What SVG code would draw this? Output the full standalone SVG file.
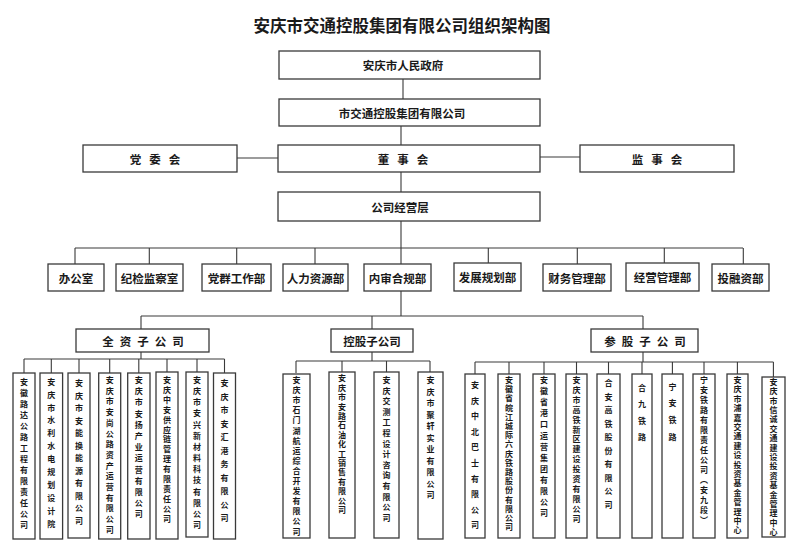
<svg xmlns="http://www.w3.org/2000/svg" width="800" height="553" viewBox="0 0 800 553">
<style>
.b{fill:#fff;stroke:#3a3a3a;stroke-width:1.3}
.c{fill:none;stroke:#3a3a3a;stroke-width:1.1}
.t{font-family:"Noto Sans CJK SC","Noto Sans",sans-serif;font-weight:bold;fill:#1a1a1a;text-anchor:middle;dominant-baseline:central;font-size:11.5px}
.v{font-family:"Noto Sans CJK SC","Noto Sans",sans-serif;font-weight:bold;fill:#1a1a1a;writing-mode:vertical-rl;font-size:8px}
</style>
<rect width="800" height="553" fill="#fff"/>
<text class="t" x="402" y="25" style="font-size:16.5px">安庆市交通控股集团有限公司组织架构图</text>

<g id="connectors">
<path class="c" d="M403 79V99M401 126V145M237 158H278M540 157H580M401 172V192M401 221V264M75 248H743M75 248V264M149.3 248V264M236.7 248V264M315 248V264M488.3 248V264M577.3 248V264M664.3 248V264M743.3 248V264M401 291V316M141 316H643M141 316V329M372 316V329M643 316V329"/>
<path class="c" d="M141 352V359M24 359H224.5M24 359V373M51.3 359V373M79 359V373M109.7 359V373M138.8 359V373M167 359V373M197 359V373M224.5 359V373"/>
<path class="c" d="M372 352V361M296 361H430M296 361V373M342 361V373M386.5 361V373M430 361V373"/>
<path class="c" d="M643 352V362M475 362H773.4M475 362V374M509 362V374M544 362V374M576.5 362V374M608.5 362V374M642 362V374M672.4 362V374M704 362V374M737.4 362V374M773.4 362V377"/>
</g>

<g id="gov"><rect class="b" x="279" y="51" width="261" height="28"/><text class="t" x="403" y="65">安庆市人民政府</text></g>
<g id="group"><rect class="b" x="279" y="99" width="261" height="27"/><text class="t" x="402" y="112.5">市交通控股集团有限公司</text></g>
<g id="party"><rect class="b" x="83" y="145" width="154" height="27"/><text class="t" x="159" y="158.5" style="letter-spacing:8px">党委会</text></g>
<g id="board"><rect class="b" x="278" y="145" width="262" height="27"/><text class="t" x="407" y="158.5" style="letter-spacing:8px">董事会</text></g>
<g id="supervisors"><rect class="b" x="580" y="145" width="154" height="27"/><text class="t" x="661" y="158.5" style="letter-spacing:8px">监事会</text></g>
<g id="mgmt"><rect class="b" x="278" y="192" width="262" height="29"/><text class="t" x="400" y="206.5">公司经营层</text></g>

<g id="d1"><rect class="b" x="48" y="264" width="56" height="27"/><text class="t" x="76" y="277.5">办公室</text></g>
<g id="d2"><rect class="b" x="116" y="264" width="67" height="27"/><text class="t" x="149.5" y="277.5">纪检监察室</text></g>
<g id="d3"><rect class="b" x="202" y="264" width="69" height="27"/><text class="t" x="236.5" y="277.5">党群工作部</text></g>
<g id="d4"><rect class="b" x="283" y="264" width="65" height="27"/><text class="t" x="315.5" y="277.5">人力资源部</text></g>
<g id="d5"><rect class="b" x="364" y="264" width="67" height="27"/><text class="t" x="397.5" y="277.5">内审合规部</text></g>
<g id="d6"><rect class="b" x="454" y="263" width="67" height="28"/><text class="t" x="487.5" y="277">发展规划部</text></g>
<g id="d7"><rect class="b" x="543" y="264" width="68" height="27"/><text class="t" x="577" y="277.5">财务管理部</text></g>
<g id="d8"><rect class="b" x="626" y="263" width="73" height="28"/><text class="t" x="662.5" y="277">经营管理部</text></g>
<g id="d9"><rect class="b" x="712" y="264" width="57" height="27"/><text class="t" x="740.5" y="277.5">投融资部</text></g>

<g id="s1"><rect class="b" x="76" y="329" width="133" height="23"/><text class="t" x="146" y="341" style="letter-spacing:6px">全资子公司</text></g>
<g id="s2"><rect class="b" x="331" y="329" width="82" height="23"/><text class="t" x="372" y="341">控股子公司</text></g>
<g id="s3"><rect class="b" x="591" y="329" width="107" height="23"/><text class="t" x="648" y="341" style="letter-spacing:6px">参股子公司</text></g>

<g id="w1"><rect class="b" x="13" y="373" width="22" height="166"/><text class="v" x="24" y="377.7" style="letter-spacing:3px">安徽路达公路工程有限责任公司</text></g>
<g id="w2"><rect class="b" x="40" y="373" width="22.6" height="166"/><text class="v" x="51.3" y="377.7" style="letter-spacing:4.9px">安庆市水利水电规划设计院</text></g>
<g id="w3"><rect class="b" x="68" y="373" width="22" height="165"/><text class="v" x="79" y="379" style="letter-spacing:4.5px">安庆市安能换能源有限公司</text></g>
<g id="w4"><rect class="b" x="98.7" y="373" width="22" height="166"/><text class="v" x="109.7" y="376" style="letter-spacing:2.7px">安庆市安尚公路资产运营有限公司</text></g>
<g id="w5"><rect class="b" x="127.7" y="373" width="22.3" height="166"/><text class="v" x="138.8" y="376" style="letter-spacing:3.2px">安庆市安扬产业运营有限公司</text></g>
<g id="w6"><rect class="b" x="156" y="372" width="22" height="167"/><text class="v" x="167" y="376" style="letter-spacing:1.9px">安庆中安供应链管理有限责任公司</text></g>
<g id="w7"><rect class="b" x="186" y="372" width="22" height="165"/><text class="v" x="197" y="376" style="letter-spacing:3.15px">安庆市安兴新材料科技有限公司</text></g>
<g id="w8"><rect class="b" x="213.5" y="373" width="22" height="166"/><text class="v" x="224.5" y="379.3" style="letter-spacing:5.5px">安庆市安汇港务有限公司</text></g>

<g id="h1"><rect class="b" x="283" y="374" width="27" height="164"/><text class="v" x="296.5" y="376" style="letter-spacing:2.1px">安庆市石门湖航运综合开发有限公司</text></g>
<g id="h2"><rect class="b" x="329" y="372" width="26" height="166"/><text class="v" x="342" y="374.3" style="letter-spacing:1.4px">安庆市安路石油化工销售有限公司</text></g>
<g id="h3"><rect class="b" x="374" y="372" width="25" height="166"/><text class="v" x="386.5" y="376" style="letter-spacing:2.6px">安庆交测工程设计咨询有限公司</text></g>
<g id="h4"><rect class="b" x="418" y="372" width="25" height="167"/><text class="v" x="430.5" y="376" style="letter-spacing:3.5px">安庆市聚轩实业有限公司</text></g>

<g id="p1"><rect class="b" x="465" y="374" width="20" height="164"/><text class="v" x="475" y="381" style="letter-spacing:7.6px">安庆中北巴士有限公司</text></g>
<g id="p2"><rect class="b" x="498" y="374" width="22" height="164"/><text class="v" x="509" y="376" style="letter-spacing:1.2px">安徽省皖江城际六庆铁路股份有限公司</text></g>
<g id="p3"><rect class="b" x="533" y="374" width="22" height="164"/><text class="v" x="544" y="376" style="letter-spacing:3.1px">安徽省港口运营集团有限公司</text></g>
<g id="p4"><rect class="b" x="566" y="374" width="21" height="164"/><text class="v" x="576.5" y="376" style="letter-spacing:1.9px">安庆市高铁新区建设投资有限公司</text></g>
<g id="p5"><rect class="b" x="597" y="374" width="23" height="164"/><text class="v" x="608.5" y="379.3" style="letter-spacing:5.5px">合安高铁股份有限公司</text></g>
<g id="p6"><rect class="b" x="632" y="374" width="20" height="164"/><text class="v" x="642" y="384.3" style="letter-spacing:8.1px">合九铁路</text></g>
<g id="p7"><rect class="b" x="662" y="374" width="21" height="164"/><text class="v" x="672.5" y="382.7" style="letter-spacing:8.7px">宁安铁路</text></g>
<g id="p8"><rect class="b" x="693" y="374" width="22" height="164"/><text class="v" x="704" y="376" style="letter-spacing:2px">宁安铁路有限责任公司（安九段）</text></g>
<g id="p9"><rect class="b" x="727" y="374" width="21" height="164"/><text class="v" x="737.5" y="376" style="letter-spacing:1.4px">安庆市浦嘉交通建设投资基金管理中心</text></g>
<g id="p10"><rect class="b" x="762" y="377" width="23" height="160"/><text class="v" x="773.5" y="377.7" style="letter-spacing:1.4px">安庆市信诚交通建设投资基金管理中心</text></g>
</svg>
